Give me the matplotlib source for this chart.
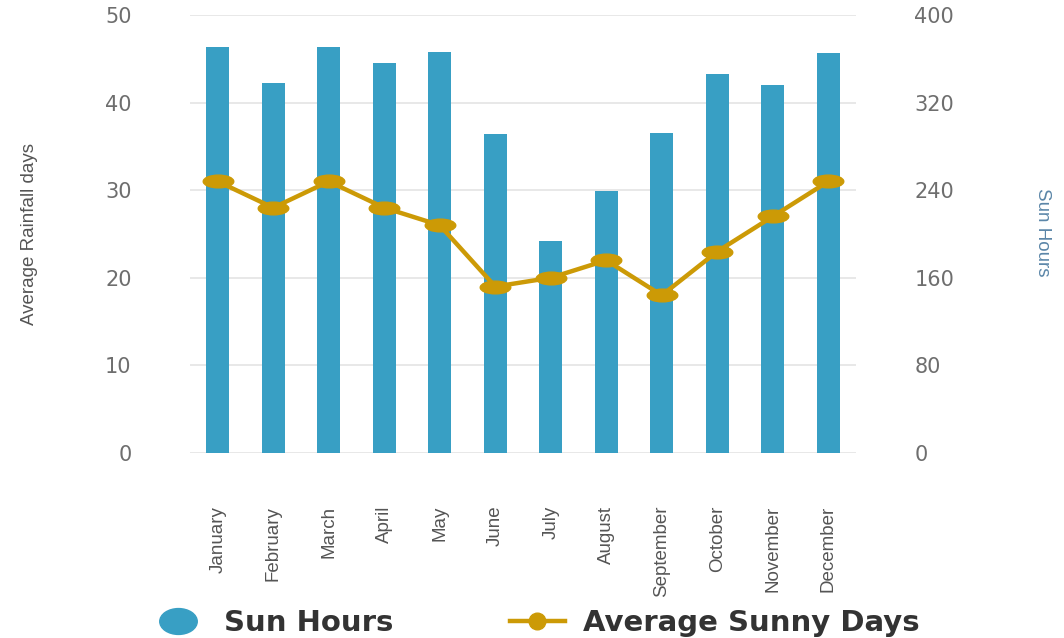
import matplotlib
matplotlib.use('Agg')
import matplotlib.pyplot as plt
from matplotlib.path import Path
from matplotlib.transforms import Affine2D
from matplotlib.lines import Line2D

months = ['January', 'February', 'March', 'April', 'May', 'June', 'July',
          'August', 'September', 'October', 'November', 'December']
sun_hours = [371, 338, 371, 356, 366, 291, 194, 239, 292, 346, 336, 365]
sunny_days = [31, 28, 31, 28, 26, 19, 20, 22, 18, 23, 27, 31]
left_ticks = [0, 10, 20, 30, 40, 50]
right_ticks = [0, 80, 160, 240, 320, 400]

bar_color = '#389fc4'
line_color = '#cc9a06'
tick_color = '#6e6e6e'
narrow = ['Liberation Sans', 'DejaVu Sans']

# flattened markers, the source picture is stretched sideways
ellipse = Path.unit_circle().transformed(Affine2D().scale(2.4, 1.0))
blob = Path.unit_circle().transformed(Affine2D().scale(1.45, 1.0))

fig = plt.figure(figsize=(10.64, 6.38), dpi=100)
ax = fig.add_axes([190 / 1064, 1 - 453 / 638, 666 / 1064, 438 / 638])
ax2 = ax.twinx()

x = list(range(len(months)))

# bars on the right axis, drawn underneath
ax2.bar(x, sun_hours, width=0.42, color=bar_color, zorder=2)
ax2.set_ylim(0, 400)
ax2.set_yticks(right_ticks)
ax2.yaxis.grid(True, color='#e4e4e4', linewidth=1.2)
ax2.set_axisbelow(True)

# line on the left axis, on top
ax.plot(x, sunny_days, color=line_color, linewidth=3.2, marker=ellipse,
        markersize=22, markerfacecolor=line_color, markeredgecolor=line_color,
        zorder=5)
ax.set_ylim(0, 50)
ax.set_yticks(left_ticks)
ax.set_xlim(-0.5, len(months) - 0.5)
ax.set_xticks(x)
ax.set_xticklabels(months, rotation=90, fontsize=13.5, color='#555555',
                   family=narrow)
ax.set_zorder(ax2.get_zorder() + 1)
ax.patch.set_visible(False)

for a in (ax, ax2):
    for s in a.spines.values():
        s.set_visible(False)
ax.tick_params(axis='y', length=0, pad=42, labelsize=15, labelcolor=tick_color)
ax2.tick_params(axis='y', length=0, pad=42, labelsize=15, labelcolor=tick_color)
ax.tick_params(axis='x', length=0, pad=38)

fig.text(30 / 1064, 1 - 234 / 638, 'Average Rainfall days', rotation=90,
         ha='center', va='center', fontsize=13.5, color='#555555', family=narrow)
fig.text(1043 / 1064, 1 - 232 / 638, 'Sun Hours', rotation=270,
         ha='center', va='center', fontsize=13.5, color='#5b86a8', family=narrow)

handles = [
    Line2D([], [], linestyle='none', marker=blob, markersize=27,
           color=bar_color),
    Line2D([], [], color=line_color, linewidth=3.2, marker='o',
           markersize=12),
]
fig.legend(handles, ['Sun Hours', 'Average Sunny Days'], loc='center',
           bbox_to_anchor=(535 / 1064, 1 - 623 / 638), ncol=2, frameon=False,
           prop={'weight': 'bold', 'size': 21}, labelcolor='#333333',
           handlelength=1.9, columnspacing=4.0, handletextpad=0.6)

fig.savefig('out.png', dpi=100)
